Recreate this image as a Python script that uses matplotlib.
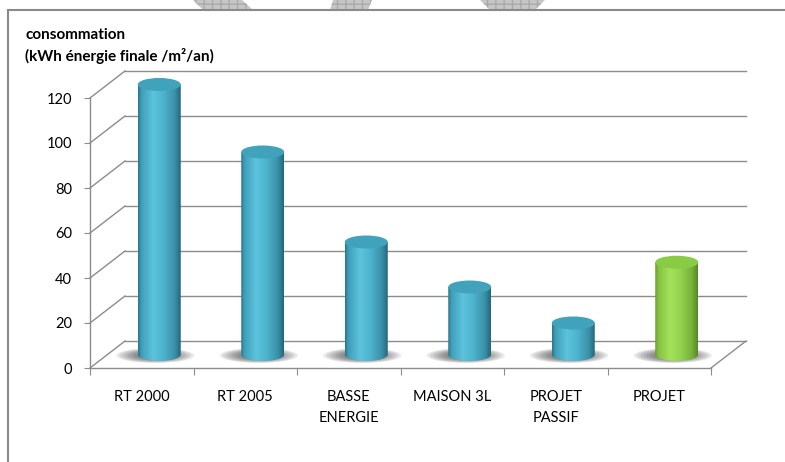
import numpy as np
import matplotlib.pyplot as plt
from matplotlib.patches import Ellipse, Polygon
from matplotlib.lines import Line2D
from matplotlib.colors import LinearSegmentedColormap

# data
categories = ["RT 2000", "RT 2005", "BASSE\nENERGIE", "MAISON 3L", "PROJET\nPASSIF", "PROJET"]
values = [120, 90, 50, 30, 14, 41]
is_project = [False, False, False, False, False, True]
y_ticks = [0, 20, 40, 60, 80, 100, 120]
title_lines = ["consommation", "(kWh énergie finale /m²/an)"]

W, H = 785, 462
plt.rcParams['font.family'] = ['Lato', 'DejaVu Sans']

fig = plt.figure(figsize=(W / 100, H / 100), dpi=100)

# front plane of the 3D box, in pixels
x0_px, x1_px = 90, 711
y0_px, y1_px = 368, 98
xmin, xmax = -0.5, len(categories) - 0.5
ymin, ymax = 0, 120
sx = (xmax - xmin) / (x1_px - x0_px)   # data per px
sy = (ymax - ymin) / (y0_px - y1_px)

# depth of the box (back wall offset) in data units
DX = 35 * sx
DY = 27 * sy

# full-figure axes sharing the same data mapping, used for the 3D drawing
bg = fig.add_axes([0, 0, 1, 1])
bg.axis('off')

grid_col = '#8c8c8c'
for v in y_ticks:
    bg.plot([xmin + DX, xmax + DX], [v + DY, v + DY], color=grid_col, lw=1, zorder=1)
    bg.plot([xmin, xmin + DX], [v, v + DY], color=grid_col, lw=1, zorder=1)
bg.plot([xmax, xmax + DX], [0, DY], color=grid_col, lw=1, zorder=1)

blue_cmap = LinearSegmentedColormap.from_list('cyl_blue', [
    (0.0, '#2b7489'), (0.08, '#3f9fb9'), (0.35, '#5dc2dc'),
    (0.6, '#4db2cc'), (0.86, '#3a90a8'), (1.0, '#24667a')])
green_cmap = LinearSegmentedColormap.from_list('cyl_green', [
    (0.0, '#679a30'), (0.08, '#84c241'), (0.35, '#a4e25c'),
    (0.6, '#93d24e'), (0.86, '#77b03a'), (1.0, '#568526')])

hw = 21.5 * sx          # half width of a cylinder
eh = 13 * sy            # height of the top/bottom ellipse
base = DY / 2
grad = np.linspace(0, 1, 256)[np.newaxis, :]
t = np.linspace(np.pi, 2 * np.pi, 60)

for i, v in enumerate(values):
    cx = i + DX / 2
    top = v + DY / 2
    green = is_project[i]

    # soft shadow on the floor, a bit more to the left
    for k in range(8):
        w = (78 - k * 6) * sx
        h = (15 - k * 1.0) * sy
        bg.add_patch(Ellipse((cx - 4 * sx, base - 1.0 * sy), w, h,
                             facecolor='#303030', edgecolor='none', alpha=0.10, zorder=2))

    # body of the cylinder
    pts = [(cx - hw, top), (cx - hw, base)]
    pts += list(zip(cx + hw * np.cos(t), base + eh / 2 * np.sin(t)))
    pts += [(cx + hw, top)]
    body = Polygon(pts, closed=True, facecolor='none', edgecolor='none')
    bg.add_patch(body)
    im = bg.imshow(grad, extent=(cx - hw, cx + hw, base - eh / 2, top),
                   aspect='auto', cmap=green_cmap if green else blue_cmap, zorder=3)
    im.set_clip_path(body)

    # top cap with a light rim at the front
    cap_col = '#8acb45' if green else '#41a2bc'
    bg.add_patch(Ellipse((cx, top), 2 * hw, eh, facecolor=cap_col,
                         edgecolor='none', zorder=4))
    bg.add_patch(Ellipse((cx - 1 * sx, top - 1.5 * sy), 2 * hw * 0.6, eh * 0.35,
                         facecolor='#b5ec78' if green else '#7fd3ea', edgecolor='none',
                         alpha=0.8, zorder=4))
    bg.add_patch(Ellipse((cx, top + 0.6 * sy), 2 * hw * 0.92, eh * 0.8,
                         facecolor=cap_col, edgecolor='none', zorder=4))

bg.set_xlim(xmin - x0_px * sx, xmax + (W - x1_px) * sx)
bg.set_ylim(ymin - (H - y0_px) * sy, ymax + y1_px * sy)

# front axes: value axis and category axis
ax = fig.add_axes([x0_px / W, (H - y0_px) / H, (x1_px - x0_px) / W, (y0_px - y1_px) / H])
ax.patch.set_alpha(0)
ax.set_xlim(xmin, xmax)
ax.set_ylim(ymin, ymax)
for s in ['top', 'right']:
    ax.spines[s].set_visible(False)
for s in ['left', 'bottom']:
    ax.spines[s].set_color(grid_col)
    ax.spines[s].set_linewidth(1)
ax.set_yticks(y_ticks)
ax.set_yticklabels([str(v) for v in y_ticks], fontsize=10.5)
ax.set_xticks(np.arange(len(categories) + 1) - 0.5)
ax.set_xticklabels([])
ax.set_xticks(np.arange(len(categories)), minor=True)
ax.set_xticklabels(categories, minor=True, fontsize=10.5, linespacing=1.62, va='top')
ax.tick_params(axis='y', length=4, color=grid_col, pad=9)
ax.tick_params(axis='x', which='major', length=5, color=grid_col)
ax.tick_params(axis='x', which='minor', length=0, pad=16)

# title, two lines
for k, line in enumerate(title_lines):
    fig.text(25 / W, 1 - (35 + 21 * k) / H, line, fontsize=11, fontweight='bold',
             va='center', ha='left')

# outer frame of the chart area
fig.add_artist(Line2D([8 / W, 1], [1 - 10 / H, 1 - 10 / H], color='#8a8a8a', lw=1.5))
fig.add_artist(Line2D([8 / W, 8 / W], [1 - 10 / H, 0], color='#8a8a8a', lw=1.5))

# bits of hatched shapes cut off at the top edge
for shape in ([(193, 0), (242, 0), (253, 10), (203, 10)],
              [(333, 0), (372, 0), (368, 10), (330, 10)],
              [(480, 0), (545, 0), (535, 10), (490, 10)]):
    fig.add_artist(Polygon([(x / W, 1 - y / H) for x, y in shape], closed=True,
                           transform=fig.transFigure, facecolor='#c6c6c6',
                           edgecolor='#a9a9a9', hatch='++', lw=0))

fig.savefig('out.png', dpi=100)
